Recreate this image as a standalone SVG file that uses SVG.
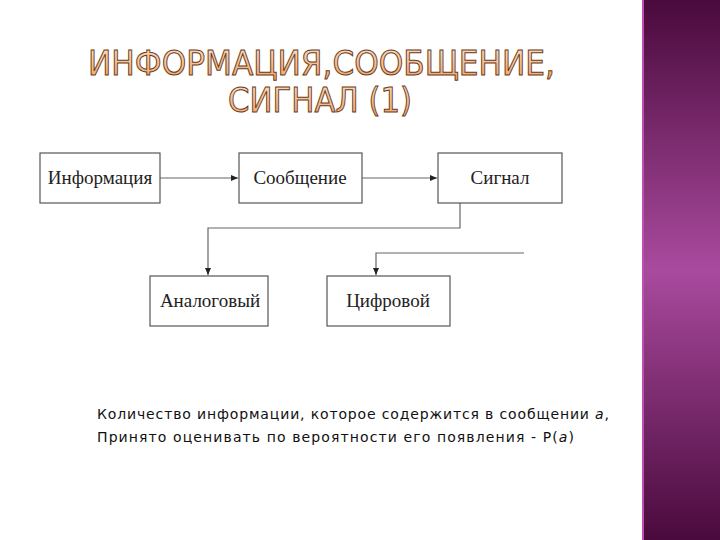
<svg xmlns="http://www.w3.org/2000/svg" width="720" height="540" viewBox="0 0 720 540">
<defs>
<linearGradient id="pg" x1="0" y1="0" x2="0" y2="1">
<stop offset="0" stop-color="#4a0a3c"/><stop offset="0.5" stop-color="#a94a9e"/><stop offset="1" stop-color="#4a0a3c"/>
</linearGradient>
<linearGradient id="tg" x1="0" y1="0" x2="0" y2="1">
<stop offset="0" stop-color="#fbe3c8"/><stop offset="1" stop-color="#f0a060"/>
</linearGradient>
<marker id="ar" markerWidth="8" markerHeight="6" refX="7" refY="3" orient="auto" markerUnits="userSpaceOnUse">
<path d="M0,0 L7,3 L0,6 z" fill="#222"/>
</marker>
<style>
.box{fill:#fff;stroke:#555;stroke-width:1.2}
.lbl{font-family:"Liberation Serif",serif;font-size:19px;fill:#222;text-anchor:middle}
.ln{fill:none;stroke:#666;stroke-width:1.2}
.title{font-family:"DejaVu Sans",sans-serif;font-size:34px;fill:url(#tg);stroke:#6a3a20;stroke-width:1}
.body{font-family:"DejaVu Sans",sans-serif;font-size:14px;fill:#111}
</style>
</defs>
<rect width="720" height="540" fill="#fff"/>
<rect x="642" y="0" width="78" height="540" fill="url(#pg)"/>
<line x1="643" y1="0" x2="643" y2="540" stroke="#c050b0" stroke-width="2"/>
<text class="title" x="88" y="75" textLength="467" lengthAdjust="spacingAndGlyphs">ИНФОРМАЦИЯ,СООБЩЕНИЕ,</text>
<text class="title" x="228" y="112" textLength="184" lengthAdjust="spacingAndGlyphs">СИГНАЛ (1)</text>
<g id="connectors">
<line class="ln" x1="160" y1="178" x2="238" y2="178" marker-end="url(#ar)"/>
<line class="ln" x1="362" y1="178" x2="437" y2="178" marker-end="url(#ar)"/>
<polyline class="ln" points="460,203 460,228 208,228 208,275" marker-end="url(#ar)"/>
<polyline class="ln" points="524,253 376,253 376,275" marker-end="url(#ar)"/>
</g>
<g id="n1"><rect class="box" x="40" y="153" width="120" height="50"/><text class="lbl" x="100" y="184">Информация</text></g>
<g id="n2"><rect class="box" x="239" y="153" width="123" height="50"/><text class="lbl" x="300" y="184">Сообщение</text></g>
<g id="n3"><rect class="box" x="438" y="153" width="124" height="50"/><text class="lbl" x="500" y="184">Сигнал</text></g>
<g id="n4"><rect class="box" x="150" y="276" width="118" height="50"/><text class="lbl" x="210" y="307">Аналоговый</text></g>
<g id="n5"><rect class="box" x="327" y="276" width="123" height="50"/><text class="lbl" x="388" y="307">Цифровой</text></g>
<text class="body" x="97" y="419" textLength="512">Количество информации, которое содержится в сообщении <tspan font-style="italic">a</tspan>,</text>
<text class="body" x="97" y="442" textLength="477">Принято оценивать по вероятности  его появления - P(<tspan font-style="italic">a</tspan>)</text>
</svg>
